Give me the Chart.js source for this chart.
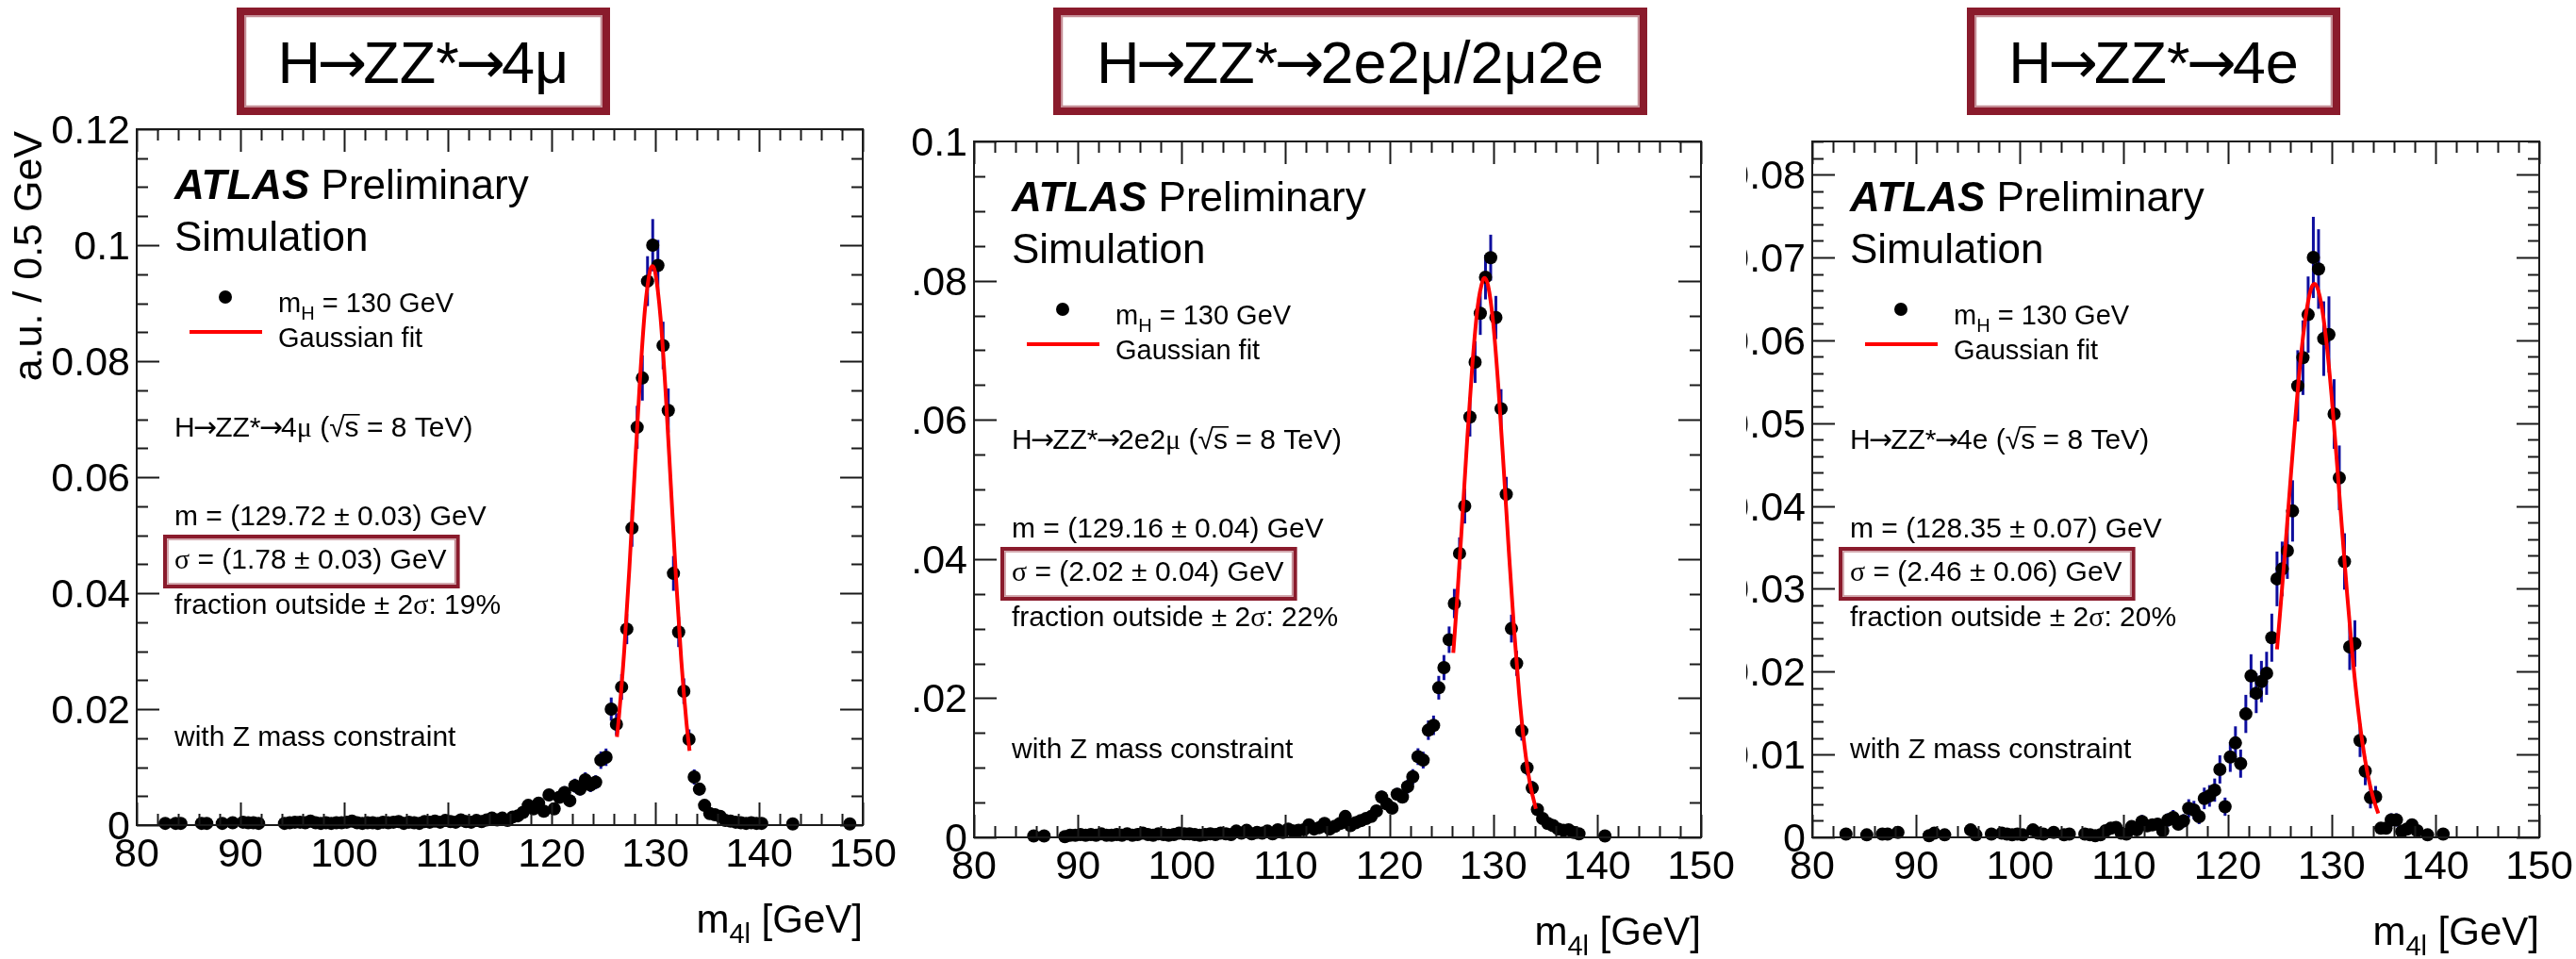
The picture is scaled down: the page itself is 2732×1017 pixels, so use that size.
<!DOCTYPE html>
<html>
<head>
<meta charset="utf-8">
<script src="https://cdn.jsdelivr.net/npm/chart.js@4.4.0/dist/chart.umd.min.js"></script>
<style>
  body { margin: 0; background: #ffffff; }
  #wrap { position: relative; width: 2732px; height: 1017px; overflow: hidden; background: #ffffff; }
  #wrap canvas { position: absolute; top: 0; }
</style>
</head>
<body>
<div id="wrap">
  <canvas id="muPanel" width="966" height="1017" style="left:0px"></canvas>
  <canvas id="emPanel" width="886" height="1017" style="left:966px"></canvas>
  <canvas id="eePanel" width="880" height="1017" style="left:1852px"></canvas>
</div>
<script>
// ---- axis ticks ----
var xTicks = [80, 90, 100, 110, 120, 130, 140, 150];
var xTickLabels = ["80", "90", "100", "110", "120", "130", "140", "150"];
var muTicks = [0, 0.02, 0.04, 0.06, 0.08, 0.1, 0.12];
var muTickLabels = ["0", "0.02", "0.04", "0.06", "0.08", "0.1", "0.12"];
var emTicks = [0, 0.02, 0.04, 0.06, 0.08, 0.1];
var emTickLabels = ["0", "0.02", "0.04", "0.06", "0.08", "0.1"];
var eeTicks = [0, 0.01, 0.02, 0.03, 0.04, 0.05, 0.06, 0.07, 0.08];
var eeTickLabels = ["0", "0.01", "0.02", "0.03", "0.04", "0.05", "0.06", "0.07", "0.08"];

// ---- H -> ZZ* -> 4mu : bin centres (GeV), normalised content, stat. error ----
var muMass = [82.75, 83.75, 84.25, 86.25, 86.75, 88.25, 89.25, 90.25, 90.75, 91.25, 91.75,
  94.25, 94.75, 95.25, 95.75, 96.25, 96.75, 97.25, 97.75, 98.25, 98.75, 99.25, 99.75,
  100.25, 100.75, 101.25, 101.75, 102.25, 102.75, 103.25, 103.75, 104.25, 104.75,
  105.25, 105.75, 106.25, 106.75, 107.25, 107.75, 108.25, 108.75, 109.25, 109.75,
  110.25, 110.75, 111.25, 111.75, 112.25, 112.75, 113.25, 113.75, 114.25, 114.75,
  115.25, 115.75, 116.25, 116.75, 117.25, 117.75, 118.25, 118.75, 119.25, 119.75,
  120.25, 120.75, 121.25, 121.75, 122.25, 122.75, 123.25, 123.75, 124.25, 124.75,
  125.25, 125.75, 126.25, 126.75, 127.25, 127.75, 128.25, 128.75, 129.25, 129.75,
  130.25, 130.75, 131.25, 131.75, 132.25, 132.75, 133.25, 133.75, 134.25, 134.75,
  135.25, 135.75, 136.25, 136.75, 137.25, 137.75, 138.25, 138.75, 139.25, 139.75,
  140.25, 143.25, 148.75];
var muValue = [0.0003, 0.0003, 0.0003, 0.0003, 0.0003, 0.0003, 0.0004, 0.0005, 0.0004, 0.0004, 0.0003,
  0.0003, 0.0004, 0.0005, 0.0005, 0.0004, 0.0007, 0.0004, 0.0003, 0.0004, 0.0003, 0.0004, 0.0004,
  0.0005, 0.0007, 0.0004, 0.0003, 0.0004, 0.0004, 0.0003, 0.0005, 0.0004, 0.0005,
  0.0006, 0.0003, 0.0005, 0.0004, 0.0003, 0.0006, 0.0005, 0.0007, 0.0005, 0.0008,
  0.0006, 0.0005, 0.0009, 0.0006, 0.0005, 0.0008, 0.0006, 0.0009, 0.0012, 0.0009,
  0.0012, 0.0008, 0.0014, 0.0016, 0.0022, 0.0034, 0.0028, 0.0038, 0.0024, 0.0052,
  0.0028, 0.0048, 0.0056, 0.0042, 0.0068, 0.0062, 0.0078, 0.0069, 0.0074, 0.0112,
  0.0117, 0.0200, 0.0174, 0.0238, 0.0338, 0.0512, 0.0686, 0.0771, 0.0938, 0.1000,
  0.0965, 0.0827, 0.0715, 0.0434, 0.0333, 0.0231, 0.0148, 0.0083, 0.0062, 0.0034,
  0.0020, 0.0018, 0.0015, 0.0008, 0.0007, 0.0005, 0.0004, 0.0003, 0.0004, 0.0003,
  0.0003, 0.0002, 0.0002];
var muError = [0.0002, 0.0002, 0.0002, 0.0002, 0.0002, 0.0002, 0.0003, 0.0003, 0.0003, 0.0003, 0.0002,
  0.0002, 0.0003, 0.0003, 0.0003, 0.0003, 0.0004, 0.0003, 0.0002, 0.0003, 0.0002, 0.0003, 0.0003,
  0.0003, 0.0004, 0.0003, 0.0002, 0.0003, 0.0003, 0.0002, 0.0003, 0.0003, 0.0003,
  0.0003, 0.0002, 0.0003, 0.0003, 0.0002, 0.0003, 0.0003, 0.0004, 0.0003, 0.0004,
  0.0003, 0.0003, 0.0004, 0.0003, 0.0003, 0.0004, 0.0003, 0.0004, 0.0005, 0.0004,
  0.0005, 0.0004, 0.0005, 0.0006, 0.0007, 0.0008, 0.0008, 0.0009, 0.0007, 0.0010,
  0.0008, 0.0010, 0.0011, 0.0009, 0.0012, 0.0011, 0.0013, 0.0012, 0.0012, 0.0015,
  0.0015, 0.0020, 0.0019, 0.0022, 0.0026, 0.0032, 0.0037, 0.0039, 0.0043, 0.0045,
  0.0044, 0.0041, 0.0038, 0.0030, 0.0026, 0.0022, 0.0017, 0.0013, 0.0011, 0.0008,
  0.0006, 0.0006, 0.0005, 0.0004, 0.0004, 0.0003, 0.0003, 0.0002, 0.0003, 0.0002,
  0.0002, 0.0002, 0.0002];
var muFitMass = [126.3, 126.5, 127, 127.5, 128, 128.5, 129, 129.5, 129.75, 130, 130.5, 131, 131.5, 132, 132.5, 133, 133.3];
var muFitValue = [0.0152, 0.0188, 0.0300, 0.0443, 0.0605, 0.0762, 0.0889, 0.0957, 0.0964, 0.0952, 0.0876, 0.0745, 0.0585, 0.0425, 0.0285, 0.0177, 0.0128];

// ---- H -> ZZ* -> 2e2mu / 2mu2e ----
var emMass = [85.75, 86.75, 88.75, 89.25, 89.75,
  90.25, 90.75, 91.25, 91.75, 92.25, 92.75, 93.25, 93.75, 94.25, 94.75,
  95.25, 95.75, 96.25, 96.75, 97.25, 97.75, 98.25, 98.75, 99.25, 99.75,
  100.25, 100.75, 101.25, 101.75, 102.25, 102.75, 103.25, 103.75, 104.25, 104.75,
  105.25, 105.75, 106.25, 106.75, 107.25, 107.75, 108.25, 108.75, 109.25, 109.75,
  110.25, 110.75, 111.25, 111.75, 112.25, 112.75, 113.25, 113.75, 114.25, 114.75,
  115.25, 115.75, 116.25, 116.75, 117.25, 117.75, 118.25, 118.75, 119.25, 119.75,
  120.25, 120.75, 121.25, 121.75, 122.25, 122.75, 123.25, 123.75, 124.25, 124.75,
  125.25, 125.75, 126.25, 126.75, 127.25, 127.75, 128.25, 128.75, 129.25, 129.75,
  130.25, 130.75, 131.25, 131.75, 132.25, 132.75, 133.25, 133.75, 134.25, 134.75,
  135.25, 135.75, 136.25, 136.75, 137.25, 137.75, 138.25, 140.75];
var emValue = [0.0002, 0.0002, 0.0001, 0.0003, 0.0003,
  0.0004, 0.0003, 0.0004, 0.0003, 0.0005, 0.0003, 0.0003, 0.0004, 0.0003, 0.0005,
  0.0003, 0.0004, 0.0006, 0.0004, 0.0003, 0.0005, 0.0004, 0.0003, 0.0004, 0.0006,
  0.0005, 0.0005, 0.0004, 0.0003, 0.0004, 0.0005, 0.0004, 0.0006, 0.0005, 0.0004,
  0.0009, 0.0006, 0.0010, 0.0005, 0.0007, 0.0006, 0.0009, 0.0005, 0.0011, 0.0007,
  0.0012, 0.0009, 0.0010, 0.0011, 0.0018, 0.0012, 0.0014, 0.0020, 0.0012, 0.0016,
  0.0020, 0.0030, 0.0017, 0.0021, 0.0024, 0.0027, 0.0030, 0.0038, 0.0058, 0.0048,
  0.0042, 0.0062, 0.0058, 0.0073, 0.0087, 0.0116, 0.0111, 0.0154, 0.0161, 0.0215,
  0.0244, 0.0284, 0.0336, 0.0408, 0.0476, 0.0604, 0.0683, 0.0753, 0.0805, 0.0833,
  0.0747, 0.0616, 0.0493, 0.0300, 0.0250, 0.0153, 0.0100, 0.0071, 0.0040, 0.0027,
  0.0020, 0.0017, 0.0012, 0.0010, 0.0011, 0.0007, 0.0005, 0.0002];
var emError = [0.0002, 0.0002, 0.0001, 0.0002, 0.0002,
  0.0002, 0.0002, 0.0002, 0.0002, 0.0003, 0.0002, 0.0002, 0.0002, 0.0002, 0.0003,
  0.0002, 0.0002, 0.0003, 0.0002, 0.0002, 0.0003, 0.0002, 0.0002, 0.0002, 0.0003,
  0.0003, 0.0003, 0.0002, 0.0002, 0.0002, 0.0003, 0.0002, 0.0003, 0.0003, 0.0002,
  0.0003, 0.0003, 0.0004, 0.0003, 0.0003, 0.0003, 0.0003, 0.0003, 0.0004, 0.0003,
  0.0004, 0.0003, 0.0004, 0.0004, 0.0005, 0.0004, 0.0004, 0.0005, 0.0004, 0.0005,
  0.0005, 0.0006, 0.0005, 0.0005, 0.0006, 0.0006, 0.0006, 0.0007, 0.0009, 0.0008,
  0.0007, 0.0009, 0.0009, 0.0010, 0.0011, 0.0012, 0.0012, 0.0014, 0.0014, 0.0017,
  0.0018, 0.0019, 0.0021, 0.0023, 0.0025, 0.0028, 0.0030, 0.0031, 0.0032, 0.0033,
  0.0031, 0.0028, 0.0025, 0.0020, 0.0018, 0.0014, 0.0011, 0.0010, 0.0007, 0.0006,
  0.0005, 0.0005, 0.0004, 0.0004, 0.0004, 0.0003, 0.0003, 0.0002];
var emFitMass = [126.15, 126.5, 127, 127.5, 128, 128.5, 129, 129.15, 129.5, 130, 130.5, 131, 131.5, 132, 132.5, 133, 133.5, 134.1];
var emFitValue = [0.0265, 0.0338, 0.0454, 0.0574, 0.0682, 0.0763, 0.0801, 0.0804, 0.0793, 0.0738, 0.0645, 0.0531, 0.0411, 0.0299, 0.0205, 0.0132, 0.0080, 0.0041];

// ---- H -> ZZ* -> 4e ----
var eeMass = [83.25, 85.25, 86.75, 87.25, 88.25, 91.25, 91.75, 92.75, 95.25, 95.75,
  97.25, 98.25, 98.75, 99.25, 99.75, 100.25, 101.25, 101.75, 102.25, 103.25,
  104.25, 104.75, 106.25, 106.75, 107.25, 107.75, 108.25, 108.75, 109.25, 109.75,
  110.25, 110.75, 111.25, 111.75, 112.25, 112.75, 113.25, 113.75, 114.25, 114.75,
  115.25, 115.75, 116.25, 116.75, 117.25, 117.75, 118.25, 118.75, 119.25, 119.75,
  120.25, 120.75, 121.25, 121.75, 122.25, 122.75, 123.25, 123.75, 124.25, 124.75,
  125.25, 125.75, 126.25, 126.75, 127.25, 127.75, 128.25, 128.75, 129.25, 129.75,
  130.25, 130.75, 131.25, 131.75, 132.25, 132.75, 133.25, 133.75, 134.25, 134.75,
  135.25, 135.75, 136.25, 136.75, 137.25, 137.75, 138.25, 139.25, 140.75];
var eeValue = [0.0004, 0.0003, 0.0004, 0.0004, 0.0006, 0.0002, 0.0005, 0.0003, 0.0009, 0.0003,
  0.0004, 0.0005, 0.0004, 0.0003, 0.0004, 0.0003, 0.0009, 0.0005, 0.0004, 0.0006,
  0.0003, 0.0004, 0.0004, 0.0003, 0.0002, 0.0003, 0.0008, 0.0011, 0.0012, 0.0005,
  0.0004, 0.0013, 0.0009, 0.0019, 0.0014, 0.0015, 0.0016, 0.0008, 0.0021, 0.0024,
  0.0016, 0.0020, 0.0035, 0.0033, 0.0025, 0.0047, 0.0050, 0.0057, 0.0082, 0.0037,
  0.0097, 0.0114, 0.0089, 0.0149, 0.0195, 0.0174, 0.0188, 0.0198, 0.0241, 0.0312,
  0.0324, 0.0346, 0.0394, 0.0545, 0.0579, 0.0631, 0.0700, 0.0686, 0.0602, 0.0607,
  0.0511, 0.0434, 0.0333, 0.0230, 0.0234, 0.0117, 0.0080, 0.0048, 0.0049, 0.0011,
  0.0011, 0.0021, 0.0021, 0.0007, 0.0010, 0.0015, 0.0008, 0.0003, 0.0004];
var eeError = [0.0004, 0.0003, 0.0004, 0.0004, 0.0005, 0.0003, 0.0004, 0.0003, 0.0006, 0.0003,
  0.0004, 0.0004, 0.0004, 0.0003, 0.0004, 0.0003, 0.0006, 0.0004, 0.0004, 0.0005,
  0.0003, 0.0004, 0.0004, 0.0003, 0.0003, 0.0003, 0.0005, 0.0006, 0.0006, 0.0004,
  0.0004, 0.0007, 0.0006, 0.0008, 0.0007, 0.0007, 0.0007, 0.0005, 0.0008, 0.0009,
  0.0007, 0.0008, 0.0011, 0.0011, 0.0009, 0.0013, 0.0013, 0.0014, 0.0017, 0.0011,
  0.0018, 0.0020, 0.0017, 0.0023, 0.0026, 0.0024, 0.0025, 0.0026, 0.0029, 0.0033,
  0.0033, 0.0034, 0.0037, 0.0043, 0.0045, 0.0046, 0.0049, 0.0048, 0.0045, 0.0046,
  0.0042, 0.0039, 0.0034, 0.0028, 0.0028, 0.0020, 0.0017, 0.0013, 0.0013, 0.0006,
  0.0006, 0.0008, 0.0008, 0.0005, 0.0006, 0.0007, 0.0005, 0.0003, 0.0004];
var eeFitMass = [124.75, 125, 125.5, 126, 126.5, 127, 127.5, 128, 128.35, 128.5, 129, 129.5, 130, 130.5, 131, 131.5, 132, 132.5, 133, 133.5, 134, 134.5];
var eeFitValue = [0.0227, 0.0264, 0.0341, 0.0423, 0.0503, 0.0574, 0.0628, 0.0661, 0.0668, 0.0667, 0.0645, 0.0599, 0.0534, 0.0456, 0.0374, 0.0294, 0.0222, 0.0161, 0.0112, 0.0075, 0.0048, 0.0029];

var SANS = '"Liberation Sans", Arial, Helvetica, sans-serif';
var SERIF = '"Liberation Serif", "Times New Roman", serif';
var ARROW = '"DejaVu Sans", sans-serif';
var BOX_RED = "#8a1b2c";
var ERR_BLUE = "#0e0e9e";

function partFont(st, size) {
    st = st || {};
    var sz = st.sub ? Math.round(size * 0.68) : size;
    var fam = st.serif ? SERIF : (st.arrow ? ARROW : SANS);
    return (st.i ? "italic " : "") + (st.b ? "bold " : "") + sz + "px " + fam;
}

// "A→B" pieces: arrows come from DejaVu and are pulled in a little
function chain(text, extra) {
    var parts = [];
    text.split("→").forEach(function (seg, i) {
        if (i > 0) parts.push(["→", { arrow: true, kern: 0.06 }]);
        if (seg) parts.push([seg, {}]);
    });
    return parts.concat(extra || []);
}

function richWidth(ctx, parts, size) {
    var w = 0;
    parts.forEach(function (p) {
        var st = p[1] || {};
        ctx.font = partFont(st, size);
        w += ctx.measureText(p[0]).width - 2 * (st.kern || 0) * size;
    });
    return w;
}

// draws a run of text pieces (subscripts, serif greek, overlined sqrt argument)
function drawRich(ctx, x, y, parts, size) {
    parts.forEach(function (p) {
        var st = p[1] || {};
        ctx.font = partFont(st, size);
        var kern = (st.kern || 0) * size;
        x -= kern;
        var yy = st.sub ? y + size * 0.26 : y;
        ctx.fillText(p[0], x, yy);
        var w = ctx.measureText(p[0]).width;
        if (st.over) ctx.fillRect(x - 1, y - size * 0.8, w + 2, 1.6);
        x += w - kern;
    });
    return x;
}

function roughBox(ctx, x0, y0, x1, y1, outer, inner) {
    ctx.save();
    ctx.strokeStyle = BOX_RED;
    ctx.lineWidth = outer;
    ctx.strokeRect(x0 + outer / 2, y0 + outer / 2, x1 - x0 - outer, y1 - y0 - outer);
    ctx.globalAlpha = 0.5;
    ctx.lineWidth = inner;
    var g = outer + 1;
    ctx.strokeRect(x0 + g, y0 + g, x1 - x0 - 2 * g, y1 - y0 - 2 * g);
    ctx.restore();
}

function rootPlugin(cfg) {
    return {
        id: "rootStyle",
        beforeDatasetsDraw: function (chart) {
            var ctx = chart.ctx, xs = chart.scales.x, ys = chart.scales.y;
            ctx.save();
            ctx.strokeStyle = ERR_BLUE;
            ctx.lineWidth = 3;
            cfg.mass.forEach(function (m, i) {
                var e = cfg.error[i];
                if (!e) return;
                var px = xs.getPixelForValue(m);
                ctx.beginPath();
                ctx.moveTo(px, ys.getPixelForValue(cfg.value[i] - e));
                ctx.lineTo(px, ys.getPixelForValue(cfg.value[i] + e));
                ctx.stroke();
            });
            ctx.restore();
        },
        afterDraw: function (chart) {
            var ctx = chart.ctx, xs = chart.scales.x, ys = chart.scales.y;
            var a = chart.chartArea;
            var l = a.left, t = a.top, r = a.right, b = a.bottom;
            ctx.save();

            // frame with ticks on all four sides, pointing inwards
            ctx.strokeStyle = "#1a1a1a";
            ctx.lineWidth = 2;
            ctx.strokeRect(l, t, r - l, b - t);
            ctx.beginPath();
            for (var v = 80; v <= 150.001; v += 2) {
                var px = Math.round(xs.getPixelForValue(v)) + 0.5;
                var len = xTicks.indexOf(Math.round(v)) >= 0 ? 24 : 12;
                ctx.moveTo(px, b); ctx.lineTo(px, b - len);
                ctx.moveTo(px, t); ctx.lineTo(px, t + len);
            }
            var nMinor = Math.round(cfg.yMax / cfg.yMinor);
            for (var k = 0; k <= nMinor; k++) {
                var yv = k * cfg.yMinor;
                var py = Math.round(ys.getPixelForValue(yv)) + 0.5;
                var major = cfg.yTicks.some(function (tv) { return Math.abs(tv - yv) < 1e-9; });
                var ylen = major ? 24 : 12;
                ctx.moveTo(l, py); ctx.lineTo(l + ylen, py);
                ctx.moveTo(r, py); ctx.lineTo(r - ylen, py);
            }
            ctx.stroke();

            // tick labels
            ctx.fillStyle = "#000";
            ctx.font = "43px " + SANS;
            ctx.textAlign = "center";
            ctx.textBaseline = "alphabetic";
            xTicks.forEach(function (tv, i) {
                ctx.fillText(xTickLabels[i], xs.getPixelForValue(tv), b + 44);
            });
            ctx.textAlign = "right";
            cfg.yTicks.forEach(function (tv, i) {
                ctx.fillText(cfg.yTickLabels[i], l - 7, ys.getPixelForValue(tv) + 15);
            });

            // axis titles
            ctx.textAlign = "left";
            var xTitle = [["m", {}], ["4l", { sub: true }], [" [GeV]", {}]];
            drawRich(ctx, r - richWidth(ctx, xTitle, 42), b + 114, xTitle, 42);
            if (cfg.yTitle) {
                ctx.save();
                ctx.translate(44, t + 2);
                ctx.rotate(-Math.PI / 2);
                ctx.textAlign = "right";
                ctx.font = "43px " + SANS;
                ctx.fillText(cfg.yTitle, 0, 0);
                ctx.restore();
            }

            // ATLAS label
            var tx = l + 40;
            drawRich(ctx, tx, t + 74, [["ATLAS", { b: true, i: true }], [" Preliminary", {}]], 44);
            drawRich(ctx, tx, t + 129, [["Simulation", {}]], 44);

            // legend
            ctx.beginPath();
            ctx.arc(l + 94, t + 178, 7, 0, Math.PI * 2);
            ctx.fill();
            drawRich(ctx, l + 150, t + 194, [["m", {}], ["H", { sub: true }], [" = 130 GeV", {}]], 29);
            ctx.strokeStyle = "#ff0000";
            ctx.lineWidth = 4;
            ctx.beginPath();
            ctx.moveTo(l + 56, t + 215);
            ctx.lineTo(l + 133, t + 215);
            ctx.stroke();
            drawRich(ctx, l + 150, t + 231, [["Gaussian fit", {}]], 29);

            // fit summary
            drawRich(ctx, tx, t + 326, cfg.process, 30);
            drawRich(ctx, tx, t + 420, [[cfg.meanText, {}]], 30);
            var sigmaEnd = drawRich(ctx, tx, t + 466, [["σ", { serif: true }], [cfg.sigmaText, {}]], 30);
            roughBox(ctx, l + 28, t + 430, sigmaEnd + 14, t + 487, 4, 1.5);
            drawRich(ctx, tx, t + 514, [["fraction outside ± 2", {}], ["σ", { serif: true }], [cfg.outsideText, {}]], 30);
            drawRich(ctx, tx, t + 654, [["with Z mass constraint", {}]], 30);

            // channel title box above the frame
            roughBox(ctx, cfg.titleBox[0], 8, cfg.titleBox[1], 122, 8, 2.5);
            var title = chain(cfg.title);
            var tw = richWidth(ctx, title, 63);
            drawRich(ctx, (cfg.titleBox[0] + cfg.titleBox[1] - tw) / 2, 88, title, 63);

            ctx.restore();
        }
    };
}

function buildPanel(canvasId, cfg) {
    var canvas = document.getElementById(canvasId);
    var W = canvas.width, H = canvas.height, a = cfg.area;
    var points = cfg.mass.map(function (m, i) { return { x: m, y: cfg.value[i] }; });
    var fit = cfg.fitMass.map(function (m, i) { return { x: m, y: cfg.fitValue[i] }; });
    return new Chart(canvas.getContext("2d"), {
        type: "scatter",
        data: {
            datasets: [{
                label: "Gaussian fit",
                data: fit,
                showLine: true,
                borderColor: "#ff0000",
                borderWidth: 4,
                pointRadius: 0,
                cubicInterpolationMode: "monotone",
                order: 0,
                clip: false
            }, {
                label: "m_H = 130 GeV",
                data: points,
                pointRadius: 7,
                pointStyle: "circle",
                backgroundColor: "#000000",
                borderColor: "#000000",
                borderWidth: 0,
                order: 1,
                clip: false
            }]
        },
        options: {
            responsive: false,
            animation: false,
            events: [],
            layout: { padding: { left: a[0], top: a[1], right: W - a[2], bottom: H - a[3] } },
            scales: {
                x: { type: "linear", min: 80, max: 150, display: false },
                y: { type: "linear", min: 0, max: cfg.yMax, display: false }
            },
            plugins: { legend: { display: false }, tooltip: { enabled: false } }
        },
        plugins: [rootPlugin(cfg)]
    });
}

buildPanel("muPanel", {
    area: [145, 137, 915, 875],
    yMax: 0.12, yMinor: 0.005, yTicks: muTicks, yTickLabels: muTickLabels,
    yTitle: "a.u. / 0.5 GeV",
    mass: muMass, value: muValue, error: muError, fitMass: muFitMass, fitValue: muFitValue,
    title: "H→ZZ*→4μ", titleBox: [251, 647],
    process: chain("H→ZZ*→4", [["μ", { serif: true }], [" (", {}], ["√", {}], ["s", { over: true }], [" = 8 TeV)", {}]]),
    meanText: "m = (129.72 ± 0.03) GeV",
    sigmaText: " = (1.78 ± 0.03) GeV",
    outsideText: ": 19%"
});

buildPanel("emPanel", {
    area: [67, 150, 838, 888],
    yMax: 0.1, yMinor: 0.005, yTicks: emTicks, yTickLabels: emTickLabels,
    mass: emMass, value: emValue, error: emError, fitMass: emFitMass, fitValue: emFitValue,
    title: "H→ZZ*→2e2μ/2μ2e", titleBox: [151, 781],
    process: chain("H→ZZ*→2e2", [["μ", { serif: true }], [" (", {}], ["√", {}], ["s", { over: true }], [" = 8 TeV)", {}]]),
    meanText: "m = (129.16 ± 0.04) GeV",
    sigmaText: " = (2.02 ± 0.04) GeV",
    outsideText: ": 22%"
});

buildPanel("eePanel", {
    area: [70, 150, 841, 888],
    yMax: 0.084, yMinor: 0.002, yTicks: eeTicks, yTickLabels: eeTickLabels,
    mass: eeMass, value: eeValue, error: eeError, fitMass: eeFitMass, fitValue: eeFitValue,
    title: "H→ZZ*→4e", titleBox: [234, 630],
    process: chain("H→ZZ*→4e (", [["√", {}], ["s", { over: true }], [" = 8 TeV)", {}]]),
    meanText: "m = (128.35 ± 0.07) GeV",
    sigmaText: " = (2.46 ± 0.06) GeV",
    outsideText: ": 20%"
});
</script>
</body>
</html>
